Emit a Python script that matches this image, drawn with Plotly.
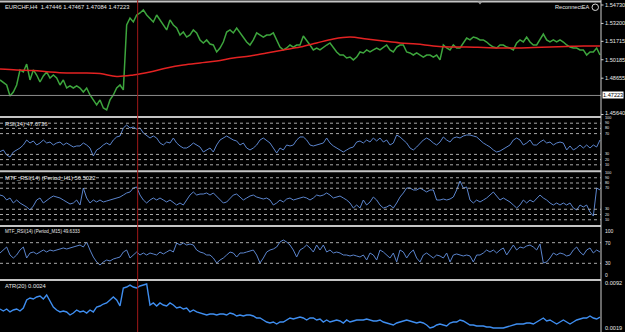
import plotly.graph_objects as go

W, H = 625, 332

# ---------------- data ----------------
price = [
    1.4851, 1.4826, 1.4809, 1.4718, 1.4751, 1.4809, 1.4934, 1.4917, 1.4983, 1.4851,
    1.4934, 1.4892, 1.4834, 1.4884, 1.4917, 1.4867, 1.4892, 1.4867, 1.4809, 1.4851,
    1.4784, 1.4801, 1.4784, 1.4801, 1.4784, 1.4751, 1.4784, 1.4726, 1.4685, 1.4643,
    1.4685, 1.4618, 1.4602, 1.4685, 1.4726, 1.4784, 1.4809, 1.4768, 1.5307, 1.5365,
    1.5332, 1.5390, 1.5407, 1.5432, 1.5390, 1.5365, 1.5332, 1.5390, 1.5349, 1.5307,
    1.5266, 1.5349, 1.5307, 1.5282, 1.5224, 1.5249, 1.5207, 1.5224, 1.5266, 1.5241,
    1.5183, 1.5158, 1.5183, 1.5149, 1.5141, 1.5083, 1.5116, 1.5166, 1.5249, 1.5266,
    1.5241, 1.5282, 1.5241, 1.5199, 1.5166, 1.5141, 1.5183, 1.5241, 1.5224, 1.5207,
    1.5224, 1.5224, 1.5241, 1.5183, 1.5124, 1.5100, 1.5116, 1.5141, 1.5124, 1.5141,
    1.5141, 1.5216, 1.5183, 1.5141, 1.5100, 1.5116, 1.5100, 1.5124, 1.5141, 1.5158,
    1.5116, 1.5083, 1.5058, 1.5058, 1.5033, 1.5041, 1.5017, 1.5041, 1.5083, 1.5075,
    1.5100, 1.5083, 1.5100, 1.5116, 1.5100, 1.5124, 1.5141, 1.5100, 1.5083, 1.5124,
    1.5141, 1.5141, 1.5083, 1.5075, 1.5058, 1.5075, 1.5058, 1.5041, 1.5058, 1.5058,
    1.5041, 1.5058, 1.5017, 1.5141, 1.5116, 1.5100, 1.5141, 1.5116, 1.5116, 1.5158,
    1.5199, 1.5183, 1.5207, 1.5199, 1.5183, 1.5183, 1.5166, 1.5141, 1.5124, 1.5116,
    1.5141, 1.5141, 1.5124, 1.5116, 1.5100, 1.5158, 1.5183, 1.5166, 1.5207, 1.5166,
    1.5141, 1.5141, 1.5183, 1.5232, 1.5183, 1.5166, 1.5183, 1.5166, 1.5183, 1.5166,
    1.5141, 1.5124, 1.5116, 1.5116, 1.5100, 1.5100, 1.5058, 1.5083, 1.5083, 1.5116, 1.5058,
]

ma_step = 5
ma = [
    1.4942, 1.4934, 1.4929, 1.4917, 1.4909, 1.4909, 1.4904, 1.4880, 1.4892, 1.4917,
    1.4950, 1.4975, 1.4992, 1.5008, 1.5033, 1.5050, 1.5075, 1.5100, 1.5124, 1.5158,
    1.5191, 1.5207, 1.5191, 1.5174, 1.5158, 1.5149, 1.5133, 1.5124, 1.5124, 1.5120,
    1.5116, 1.5116, 1.5120, 1.5124, 1.5129, 1.5133, 1.5133,
]

rsi = [
    35.2, 38.5, 28.8, 25.0, 34.6, 38.5, 42.3, 48.1, 57.7, 51.9,
    55.8, 48.1, 51.9, 57.7, 51.9, 53.8, 48.1, 51.9, 53.8, 48.1,
    51.9, 48.1, 44.2, 46.2, 46.2, 51.9, 48.1, 42.3, 26.9, 38.5,
    42.3, 48.1, 51.9, 48.1, 57.7, 63.5, 65.4, 80.8, 86.5, 80.8,
    82.7, 78.8, 80.8, 71.2, 65.4, 61.5, 65.4, 61.5, 51.9, 48.1,
    53.8, 51.9, 61.5, 51.9, 46.2, 42.3, 42.3, 46.2, 51.9, 48.1,
    44.2, 34.6, 38.5, 42.3, 34.6, 48.1, 57.7, 61.5, 65.4, 61.5,
    57.7, 55.8, 48.1, 51.9, 42.3, 38.5, 42.3, 48.1, 57.7, 61.5,
    55.8, 51.9, 42.3, 32.7, 42.3, 38.5, 48.1, 46.2, 48.1, 57.7,
    63.5, 63.5, 57.7, 48.1, 46.2, 48.1, 50.0, 51.9, 61.5, 51.9,
    46.2, 42.3, 38.5, 34.6, 38.5, 42.3, 44.2, 53.8, 55.8, 51.9,
    57.7, 53.8, 61.5, 55.8, 61.5, 53.8, 57.7, 48.1, 51.9, 67.3,
    63.5, 57.7, 51.9, 42.3, 38.5, 44.2, 51.9, 57.7, 61.5, 57.7,
    51.9, 48.1, 53.8, 63.5, 57.7, 53.8, 61.5, 63.5, 61.5, 65.4,
    67.3, 67.3, 65.4, 63.5, 57.7, 51.9, 48.1, 44.2, 38.5, 34.6,
    36.5, 40.4, 44.2, 48.1, 57.7, 61.5, 57.7, 48.1, 51.9, 57.7,
    48.1, 48.1, 53.8, 57.7, 51.9, 53.8, 48.1, 51.9, 53.8, 51.9,
    38.5, 46.2, 38.5, 42.3, 48.1, 42.3, 48.1, 42.3, 48.1, 44.2, 57.7,
]

rsi_h1 = [
    57.1, 55.2, 47.6, 51.4, 41.9, 47.6, 41.9, 38.1, 34.3, 28.6,
    36.2, 47.6, 51.4, 41.9, 47.6, 51.4, 55.2, 53.3, 51.4, 47.6,
    43.8, 40.0, 41.9, 47.6, 38.1, 70.5, 51.4, 41.9, 47.6, 43.8,
    47.6, 43.8, 45.7, 47.6, 49.5, 51.4, 53.3, 57.1, 61.0, 62.9,
    70.5, 72.4, 57.1, 47.6, 41.9, 47.6, 51.4, 47.6, 51.4, 47.6,
    43.8, 47.6, 41.9, 38.1, 41.9, 38.1, 47.6, 57.1, 62.9, 57.1,
    59.0, 59.0, 61.0, 57.1, 61.0, 55.2, 47.6, 41.9, 43.8, 51.4,
    57.1, 59.0, 53.3, 47.6, 51.4, 55.2, 57.1, 53.3, 51.4, 49.5,
    51.4, 47.6, 38.1, 41.9, 47.6, 43.8, 49.5, 51.4, 47.6, 49.5,
    51.4, 53.3, 51.4, 47.6, 51.4, 57.1, 55.2, 57.1, 61.0, 57.1,
    51.4, 53.3, 55.2, 51.4, 47.6, 41.9, 32.4, 38.1, 32.4, 47.6,
    38.1, 43.8, 53.3, 47.6, 38.1, 32.4, 34.3, 38.1, 32.4, 41.9,
    53.3, 61.0, 70.5, 70.5, 66.7, 66.7, 70.5, 66.7, 62.9, 66.7,
    66.7, 47.6, 47.6, 49.5, 47.6, 49.5, 53.3, 66.7, 83.8, 70.5,
    72.4, 47.6, 41.9, 47.6, 43.8, 47.6, 51.4, 57.1, 62.9, 55.2,
    47.6, 51.4, 47.6, 43.8, 38.1, 32.4, 38.1, 47.6, 41.9, 47.6,
    43.8, 51.4, 57.1, 51.4, 47.6, 41.9, 38.1, 41.9, 38.1, 41.9,
    38.1, 41.9, 32.4, 28.6, 38.1, 34.3, 38.1, 24.8, 17.1, 70.5, 66.7,
]

rsi_m15 = [
    50.0, 55.8, 61.6, 46.1, 40.3, 46.1, 55.8, 61.6, 40.3, 50.0,
    51.9, 48.1, 51.9, 55.8, 51.9, 55.8, 53.9, 55.8, 57.8, 59.7,
    57.8, 59.7, 61.6, 63.6, 65.5, 61.6, 71.3, 55.8, 42.2, 32.6,
    26.7, 32.6, 36.4, 34.5, 38.4, 40.3, 42.2, 51.9, 55.8, 40.3,
    46.1, 51.9, 46.1, 50.0, 46.1, 50.0, 48.1, 46.1, 51.9, 48.1,
    51.9, 55.8, 51.9, 69.4, 65.5, 69.4, 65.5, 67.4, 65.5, 55.8,
    51.9, 50.0, 46.1, 46.1, 40.3, 30.6, 36.4, 40.3, 46.1, 51.9,
    50.0, 42.2, 50.0, 50.0, 51.9, 53.9, 55.8, 46.1, 30.6, 40.3,
    51.9, 55.8, 57.8, 61.6, 71.3, 75.2, 71.3, 65.5, 55.8, 42.2,
    55.8, 59.7, 65.5, 59.7, 51.9, 65.5, 55.8, 65.5, 51.9, 55.8,
    50.0, 51.9, 50.0, 46.1, 46.1, 44.2, 46.1, 44.2, 42.2, 46.1,
    36.4, 50.0, 46.1, 36.4, 55.8, 51.9, 46.1, 40.3, 50.0, 32.6,
    55.8, 51.9, 40.3, 50.0, 55.8, 40.3, 32.6, 46.1, 50.0, 44.2,
    40.3, 46.1, 44.2, 40.3, 50.0, 32.6, 46.1, 48.1, 46.1, 44.2,
    46.1, 44.2, 32.6, 46.1, 46.1, 50.0, 55.8, 51.9, 55.8, 50.0,
    55.8, 59.7, 46.1, 55.8, 65.5, 55.8, 61.6, 59.7, 63.6, 65.5,
    61.6, 55.8, 67.4, 30.6, 32.6, 40.3, 50.0, 46.1, 50.0, 48.1,
    44.2, 46.1, 55.8, 61.6, 51.9, 46.1, 55.8, 59.7, 50.0, 55.8, 51.9,
]

atr = [
    0.00498, 0.00466, 0.00498, 0.00450, 0.00482, 0.00498, 0.00466, 0.00514, 0.00644, 0.00677,
    0.00660, 0.00693, 0.00709, 0.00660, 0.00725, 0.00628, 0.00531, 0.00482, 0.00450, 0.00466,
    0.00450, 0.00401, 0.00433, 0.00482, 0.00450, 0.00466, 0.00433, 0.00482, 0.00450, 0.00531,
    0.00547, 0.00579, 0.00596, 0.00644, 0.00693, 0.00644, 0.00547, 0.00839, 0.00855, 0.00887,
    0.00855, 0.00839, 0.00871, 0.00887, 0.00904, 0.00563, 0.00596, 0.00547, 0.00596, 0.00563,
    0.00547, 0.00596, 0.00563, 0.00514, 0.00531, 0.00498, 0.00514, 0.00450, 0.00482, 0.00450,
    0.00433, 0.00417, 0.00401, 0.00417, 0.00417, 0.00401, 0.00417, 0.00417, 0.00401, 0.00433,
    0.00417, 0.00385, 0.00401, 0.00385, 0.00401, 0.00401, 0.00385, 0.00352, 0.00352, 0.00320,
    0.00287, 0.00271, 0.00287, 0.00255, 0.00287, 0.00287, 0.00320, 0.00352, 0.00336, 0.00352,
    0.00368, 0.00352, 0.00320, 0.00352, 0.00352, 0.00320, 0.00336, 0.00287, 0.00320, 0.00287,
    0.00304, 0.00320, 0.00304, 0.00271, 0.00320, 0.00287, 0.00304, 0.00320, 0.00320, 0.00320,
    0.00336, 0.00320, 0.00304, 0.00304, 0.00320, 0.00287, 0.00271, 0.00255, 0.00239, 0.00271,
    0.00287, 0.00304, 0.00320, 0.00304, 0.00287, 0.00271, 0.00287, 0.00271, 0.00239, 0.00190,
    0.00206, 0.00239, 0.00255, 0.00239, 0.00222, 0.00271, 0.00287, 0.00287, 0.00320, 0.00304,
    0.00271, 0.00239, 0.00239, 0.00222, 0.00222, 0.00222, 0.00206, 0.00206, 0.00190, 0.00190,
    0.00190, 0.00190, 0.00206, 0.00222, 0.00239, 0.00255, 0.00255, 0.00255, 0.00271, 0.00271,
    0.00255, 0.00287, 0.00320, 0.00352, 0.00304, 0.00320, 0.00287, 0.00255, 0.00287, 0.00320,
    0.00287, 0.00255, 0.00287, 0.00320, 0.00336, 0.00352, 0.00352, 0.00385, 0.00352, 0.00336, 0.00368,
]

price_ticks = ["1.54730", "1.53200", "1.51715", "1.50185", "1.48655", "1.45640"]
current_price = 1.47223
rsi_levels = [90, 80, 70, 30, 20, 10]
rsi_labels = ["100", "90", "80", "70", "30", "20", "10"]
m15_levels = [70, 30]
m15_labels = ["100", "70", "30", "0"]
atr_ticks = ["0.0092", "0.0019"]
marker_bar = 41.3          # red vertical period separator
arrow_bar = 144            # small shift marker at top

title_main = "EURCHF,H4  1.47446 1.47467 1.47084 1.47223"
title_rsi = "RSI(14) 47.6736"
title_h1 = "MTF_RSI(14) (Period_H1) 56.5022"
title_m15 = "MTF_RSI(14) (Period_M15) 49.6333"
title_atr = "ATR(20) 0.0024"

# ---------------- layout helpers ----------------
PLOT_R = 601  # right edge of plotting area in px


def dom(top, bottom):
    return [1 - bottom / H, 1 - top / H]


def py(y):
    return 1 - y / H


def px(x):
    return x / W


FONT = "Liberation Sans"
TXT = "#e8e8e8"
GRID = "#a8a8a8"
SEP = "#c4c4c4"
BLUE = "#5b84cc"

fig = go.Figure()

xs = list(range(len(price)))
fig.add_trace(go.Scatter(x=xs, y=price, mode="lines",
                         line=dict(color="#3da53d", width=1.5), yaxis="y"))
fig.add_trace(go.Scatter(x=[i * ma_step for i in range(len(ma))], y=ma, mode="lines",
                         line=dict(color="#e32222", width=1.5, shape="spline"), yaxis="y"))
fig.add_trace(go.Scatter(x=list(range(len(rsi))), y=rsi, mode="lines",
                         line=dict(color=BLUE, width=1), yaxis="y2"))
fig.add_trace(go.Scatter(x=list(range(len(rsi_h1))), y=rsi_h1, mode="lines",
                         line=dict(color=BLUE, width=1), yaxis="y3"))
fig.add_trace(go.Scatter(x=list(range(len(rsi_m15))), y=rsi_m15, mode="lines",
                         line=dict(color=BLUE, width=1), yaxis="y4"))
fig.add_trace(go.Scatter(x=list(range(len(atr))), y=atr, mode="lines",
                         line=dict(color="#3f8ef0", width=1.4), yaxis="y5"))

hidden = dict(showticklabels=False, showgrid=False, zeroline=False, showline=False, ticks="")
xrange = [0, PLOT_R * 0.3]

layout = dict(
    width=W, height=H, margin=dict(l=0, r=0, t=0, b=0),
    paper_bgcolor="black", plot_bgcolor="black", showlegend=False,
    xaxis=dict(domain=[0, PLOT_R / W], range=xrange, **hidden),
    yaxis=dict(domain=dom(3, 116), range=[1.45517, 1.54896], **hidden),
    yaxis2=dict(domain=dom(118, 170), range=[0, 100], **hidden),
    yaxis3=dict(domain=dom(172.5, 225), range=[0, 100], **hidden),
    yaxis4=dict(domain=dom(227.2, 278.8), range=[0, 100], **hidden),
    yaxis5=dict(domain=dom(281, 332), range=[0.001251, 0.009524], **hidden),
)
fig.update_layout(**layout)

shapes = []
# dotted levels
for lv in rsi_levels:
    for yr in ("y2", "y3"):
        shapes.append(dict(type="line", xref="x", yref=yr, x0=xrange[0], x1=xrange[1],
                           y0=lv, y1=lv, line=dict(color=GRID, width=1, dash="dot")))
for lv in m15_levels:
    shapes.append(dict(type="line", xref="x", yref="y4", x0=xrange[0], x1=xrange[1],
                       y0=lv, y1=lv, line=dict(color=GRID, width=1, dash="dot")))
# current price line
shapes.append(dict(type="line", xref="x", yref="y", x0=xrange[0], x1=xrange[1],
                   y0=current_price, y1=current_price, line=dict(color="#8c8c8c", width=1)))
# window separators and top border
for ysep in (1.5, 117, 171.3, 226, 280):
    shapes.append(dict(type="line", xref="paper", yref="paper", x0=0, x1=px(PLOT_R),
                       y0=py(ysep), y1=py(ysep), line=dict(color=SEP, width=2)))
# right price-scale border
shapes.append(dict(type="line", xref="paper", yref="paper", x0=px(PLOT_R), x1=px(PLOT_R),
                   y0=0, y1=1, line=dict(color="#d0d0d0", width=1)))
# red vertical separator
shapes.append(dict(type="line", xref="x", yref="paper", x0=marker_bar, x1=marker_bar,
                   y0=0, y1=1, line=dict(color="#a01818", width=1)))
# small shift triangle at top
ax = arrow_bar / 0.3
shapes.append(dict(type="path", xref="paper", yref="paper",
                   path=f"M {px(ax-2.5)} {py(1.5)} L {px(ax+2.5)} {py(1.5)} L {px(ax)} {py(4.5)} Z",
                   fillcolor="#9a9a9a", line=dict(width=0)))
# smiley circle of ReconnectEA
shapes.append(dict(type="circle", xref="paper", yref="paper",
                   x0=px(592), x1=px(598.5), y0=py(10.5), y1=py(4),
                   line=dict(color="#d8d8d8", width=1)))
# tick marks next to main scale
for t in price_ticks:
    shapes.append(dict(type="line", xref="paper", yref="y", x0=px(PLOT_R), x1=px(PLOT_R + 2.5),
                       y0=float(t), y1=float(t), line=dict(color="#d0d0d0", width=1)))
fig.update_layout(shapes=shapes)

ann = []


def label(text, yref, yval, anchor="middle", size=5.6, x=603.5, shift=0):
    ann.append(dict(text=text, xref="paper", yref=yref, x=px(x), y=yval,
                    xanchor="left", yanchor=anchor, showarrow=False, borderpad=0,
                    yshift=shift, font=dict(family=FONT, size=size, color=TXT)))


for t in price_ticks:
    label(t, "y", float(t), shift=(2 if t == "1.45640" else 0))

ann.append(dict(text=f"{current_price:.5f}", xref="paper", yref="y", x=px(602), y=current_price,
                xanchor="left", yanchor="middle", showarrow=False, bgcolor="white",
                borderpad=0, font=dict(family=FONT, size=5.6, color="black")))

for yr in ("y2", "y3"):
    for t in rsi_labels:
        v = float(t)
        label(t, yr, v, size=3.8)
for t in m15_labels:
    v = float(t)
    label(t, "y4", v, anchor="top" if v == 100 else ("bottom" if v == 0 else "middle"), size=5)
label(atr_ticks[0], "y5", 0.0092, anchor="middle")
label(atr_ticks[1], "y5", 0.0019, anchor="middle")


def title(text, ypix, size=5.8):
    ann.append(dict(text=text, xref="paper", yref="paper", x=px(2.5), y=py(ypix),
                    xanchor="left", yanchor="middle", showarrow=False,
                    font=dict(family=FONT, size=size, color=TXT)))


title(title_main, 7)
title(title_rsi, 124)
title(title_h1, 178)
title(title_m15, 231.5, size=4.6)
title(title_atr, 285.5)
ann.append(dict(text="ReconnectEA", xref="paper", yref="paper", x=px(590.5), y=py(7.3),
                xanchor="right", yanchor="middle", showarrow=False,
                font=dict(family=FONT, size=5.6, color=TXT)))

fig.update_layout(annotations=ann)
fig.write_html("out.html")
